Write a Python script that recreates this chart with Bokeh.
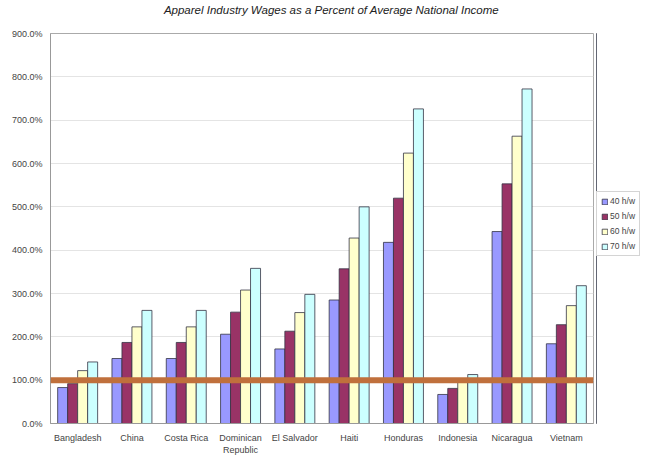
from bokeh.plotting import figure
from bokeh.layouts import row, column
from bokeh.models import (ColumnDataSource, FactorRange, FixedTicker, PrintfTickFormatter, Span,
                          Legend, LegendItem, Label)
from bokeh.transform import dodge
from bokeh.embed import file_html
from bokeh.resources import INLINE

title_text = "Apparel Industry Wages as a Percent of Average National Income"
categories = ["Bangladesh", "China", "Costa Rica", "Dominican\nRepublic", "El Salvador",
              "Haiti", "Honduras", "Indonesia", "Nicaragua", "Vietnam"]
series_names = ["40 h/w", "50 h/w", "60 h/w", "70 h/w"]
w40 = [83, 150, 150, 206, 172, 285, 418, 67, 443, 184]
w50 = [92, 187, 187, 257, 213, 357, 520, 81, 553, 228]
w60 = [122, 223, 223, 308, 256, 428, 624, 95, 663, 272]
w70 = [142, 261, 261, 358, 298, 500, 726, 113, 772, 318]
y_ticks = [0, 100, 200, 300, 400, 500, 600, 700, 800, 900]
reference_level = 100

colors = ["#9999FF", "#993366", "#FFFFCC", "#CCFFFF"]

source = ColumnDataSource(data=dict(cat=categories, w40=w40, w50=w50, w60=w60, w70=w70))

# title strip
tf = figure(width=642, height=22, output_backend="svg", toolbar_location=None,
            x_range=(0, 1), y_range=(0, 1), min_border=0,
            x_axis_location=None, y_axis_location=None)
tf.grid.grid_line_color = None
tf.outline_line_color = None
tf.add_layout(Label(x=331, y=13, x_units="screen", y_units="screen", text=title_text,
                    text_align="center", text_baseline="middle",
                    text_font="Liberation Sans", text_font_style="italic",
                    text_font_size="11.5px", text_color="#222222"))

p = figure(x_range=FactorRange(*categories, range_padding=0), y_range=(0, 900),
           width=596, height=440, output_backend="svg", toolbar_location=None,
           min_border_left=50, min_border_right=3, min_border_top=11, min_border_bottom=39)

cols = ["w40", "w50", "w60", "w70"]
offsets = [-0.276, -0.092, 0.092, 0.276]
for c, off, col in zip(cols, offsets, colors):
    p.vbar(x=dodge("cat", off, range=p.x_range), top=c, width=0.184, source=source,
           fill_color=col, line_color="#333344", line_width=0.8)

span = Span(location=reference_level, dimension="width", line_color="#C0703C", line_width=6)
p.add_layout(span)

p.yaxis.ticker = FixedTicker(ticks=y_ticks)
p.yaxis.formatter = PrintfTickFormatter(format="%.1f%%")
for ax in (p.xaxis, p.yaxis):
    ax.major_label_text_font = "Liberation Sans"
    ax.major_label_text_font_size = "9px"
    ax.major_label_text_color = "#444444"
    ax.axis_line_color = "#999999"
    ax.major_tick_line_color = "#999999"
    ax.minor_tick_line_color = None
p.xaxis.major_tick_line_color = None
p.yaxis.major_tick_out = 0
p.yaxis.major_tick_in = 0
p.yaxis.major_label_standoff = 8
p.xaxis.major_label_standoff = 3

p.xgrid.grid_line_color = None
p.ygrid.grid_line_color = "#E4E4E4"
p.outline_line_color = "#AAAAAA"
p.background_fill_color = "white"

# legend in a narrow companion figure at the right
lg = figure(width=46, height=440, output_backend="svg", toolbar_location=None,
            x_range=(0, 1), y_range=(0, 1), min_border=0,
            x_axis_location=None, y_axis_location=None)
lg.grid.grid_line_color = None
lg.outline_line_color = None
items = []
for col, name in zip(colors, series_names):
    r = lg.vbar(x=-10, top=1, width=0.1, fill_color=col, line_color="#333344", line_width=0.8)
    items.append(LegendItem(label=name, renderers=[r]))

legend = Legend(items=items, location=(0, 167), orientation="vertical")
legend.label_text_font = "Liberation Sans"
legend.label_text_font_size = "8.5px"
legend.label_text_color = "#444444"
legend.glyph_width = 7
legend.glyph_height = 7
legend.label_height = 10
legend.label_width = 20
legend.label_standoff = 2
legend.spacing = 5
legend.padding = 4
legend.margin = 0
legend.border_line_color = "#AAAAAA"
legend.background_fill_alpha = 1
lg.add_layout(legend, "center")

layout = column(tf, row(p, lg))
open("out.html", "w").write(file_html(layout, INLINE))
